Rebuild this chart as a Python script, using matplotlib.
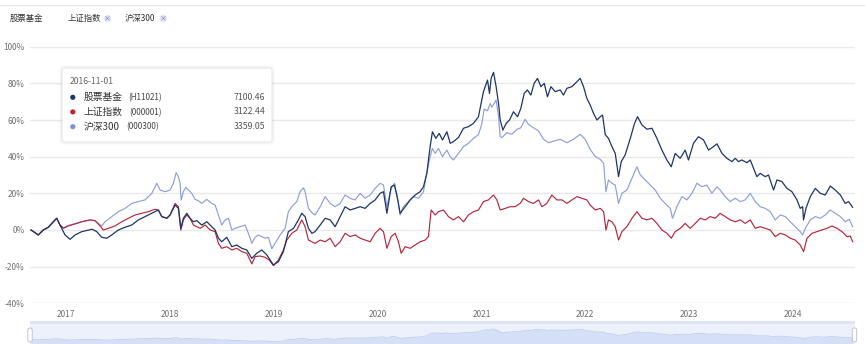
import numpy as np
import matplotlib
matplotlib.use("Agg")
import matplotlib.pyplot as plt
from matplotlib.patches import FancyBboxPatch, Circle, Rectangle
from matplotlib.transforms import IdentityTransform

plt.rcParams['font.family'] = ['Noto Sans CJK SC', 'DejaVu Sans']

# cumulative return (%), x in decimal years
fund = [
    (2016.666, 0.0), (2016.705, -1.5), (2016.736, -2.7), (2016.784, 0.0), (2016.833, 1.5),
    (2016.881, 4.5), (2016.913, 6.4), (2016.945, 2.7), (2016.993, -2.7), (2017.041, -5.1),
    (2017.090, -2.7), (2017.154, -0.9), (2017.254, 0.4), (2017.298, -0.9), (2017.346, -4.0),
    (2017.395, -4.5), (2017.443, -2.7), (2017.506, 0.0), (2017.571, 1.5), (2017.635, 2.7),
    (2017.699, 5.5), (2017.763, 7.3), (2017.828, 9.1), (2017.891, 10.9), (2017.924, 7.3),
    (2017.972, 6.4), (2018.004, 8.2), (2018.052, 13.6), (2018.084, 11.8), (2018.107, 0.9),
    (2018.132, 6.4), (2018.165, 9.1), (2018.196, 6.4), (2018.228, 4.5), (2018.261, 5.1),
    (2018.309, 2.7), (2018.357, 4.5), (2018.405, 1.8), (2018.437, 0.0), (2018.469, -4.5),
    (2018.501, -6.4), (2018.549, -4.0), (2018.598, -9.1), (2018.645, -8.2), (2018.694, -10.0),
    (2018.742, -10.9), (2018.790, -15.5), (2018.838, -12.7), (2018.886, -10.9), (2018.935, -13.6),
    (2018.998, -19.1), (2019.046, -17.3), (2019.094, -11.8), (2019.142, -0.9), (2019.191, 0.9),
    (2019.239, 5.5), (2019.271, 9.1), (2019.303, 7.3), (2019.335, 0.9), (2019.368, -1.8),
    (2019.399, -0.9), (2019.448, 2.7), (2019.496, 6.4), (2019.544, 5.5), (2019.592, 1.8),
    (2019.640, 7.3), (2019.688, 12.7), (2019.736, 10.9), (2019.784, 11.8), (2019.833, 12.7),
    (2019.881, 11.8), (2019.929, 14.5), (2019.977, 16.4), (2020.025, 20.0), (2020.057, 20.9),
    (2020.090, 9.1), (2020.131, 23.6), (2020.163, 24.5), (2020.195, 16.4), (2020.217, 9.1),
    (2020.266, 12.7), (2020.314, 16.4), (2020.362, 19.1), (2020.410, 20.9), (2020.442, 23.6),
    (2020.474, 30.9), (2020.506, 45.5), (2020.528, 53.6), (2020.561, 50.0), (2020.593, 52.7),
    (2020.625, 49.1), (2020.667, 53.6), (2020.699, 47.3), (2020.730, 48.2), (2020.779, 50.5),
    (2020.827, 55.5), (2020.875, 56.4), (2020.923, 58.2), (2020.971, 61.8), (2021.019, 75.5),
    (2021.058, 81.8), (2021.077, 74.5), (2021.093, 82.7), (2021.116, 86.0), (2021.141, 78.2),
    (2021.164, 69.1), (2021.180, 60.0), (2021.206, 54.5), (2021.238, 58.2), (2021.270, 60.0),
    (2021.308, 64.5), (2021.347, 61.8), (2021.379, 66.4), (2021.411, 74.5), (2021.442, 76.4),
    (2021.475, 73.6), (2021.507, 80.0), (2021.539, 82.7), (2021.572, 78.2), (2021.604, 80.0),
    (2021.635, 72.7), (2021.668, 78.2), (2021.709, 75.5), (2021.757, 76.4), (2021.789, 73.6),
    (2021.822, 77.3), (2021.870, 78.2), (2021.918, 80.9), (2021.950, 82.7), (2021.982, 78.2),
    (2022.014, 71.8), (2022.046, 68.2), (2022.078, 63.6), (2022.111, 60.0), (2022.143, 61.8),
    (2022.165, 62.7), (2022.191, 52.0), (2022.222, 50.0), (2022.255, 45.5), (2022.287, 41.8),
    (2022.319, 29.1), (2022.345, 37.3), (2022.383, 41.0), (2022.432, 50.0), (2022.473, 58.2),
    (2022.502, 61.8), (2022.544, 57.3), (2022.592, 55.0), (2022.640, 55.5), (2022.688, 50.0),
    (2022.736, 43.6), (2022.784, 38.2), (2022.826, 34.5), (2022.864, 41.8), (2022.912, 39.1),
    (2022.960, 43.6), (2022.992, 38.2), (2023.040, 47.3), (2023.088, 50.9), (2023.137, 49.1),
    (2023.185, 43.6), (2023.233, 45.5), (2023.266, 47.0), (2023.314, 41.8), (2023.362, 39.1),
    (2023.410, 37.3), (2023.442, 39.1), (2023.473, 37.3), (2023.506, 38.2), (2023.554, 36.7),
    (2023.586, 38.2), (2023.618, 33.6), (2023.650, 29.1), (2023.682, 30.9), (2023.730, 29.1),
    (2023.762, 30.0), (2023.810, 21.8), (2023.843, 27.3), (2023.891, 26.4), (2023.939, 22.7),
    (2023.987, 20.9), (2024.036, 16.4), (2024.067, 11.8), (2024.090, 12.7), (2024.099, 5.5),
    (2024.122, 11.8), (2024.164, 18.2), (2024.212, 22.7), (2024.260, 20.0), (2024.308, 19.1),
    (2024.356, 24.0), (2024.404, 21.8), (2024.453, 19.1), (2024.500, 14.5), (2024.532, 15.5),
    (2024.571, 12.4),
]

sh_index = [
    (2016.666, 0.0), (2016.705, -1.5), (2016.736, -2.7), (2016.784, 0.0), (2016.833, 1.5),
    (2016.881, 4.5), (2016.913, 6.4), (2016.945, 2.7), (2016.977, 0.9), (2017.025, 2.2),
    (2017.090, 3.3), (2017.154, 4.5), (2017.234, 5.5), (2017.282, 5.1), (2017.330, 2.2),
    (2017.362, 0.0), (2017.410, 0.9), (2017.474, 2.2), (2017.539, 4.5), (2017.603, 6.4),
    (2017.667, 8.2), (2017.731, 9.1), (2017.795, 10.0), (2017.859, 11.3), (2017.891, 10.9),
    (2017.924, 7.3), (2017.972, 6.4), (2018.004, 8.2), (2018.052, 14.5), (2018.084, 12.7),
    (2018.107, 0.0), (2018.132, 5.5), (2018.165, 8.2), (2018.196, 6.4), (2018.228, 2.7),
    (2018.261, 1.8), (2018.293, 0.9), (2018.341, 2.7), (2018.389, 0.0), (2018.437, -0.9),
    (2018.469, -7.3), (2018.501, -10.0), (2018.549, -9.1), (2018.598, -10.9), (2018.645, -10.0),
    (2018.694, -11.8), (2018.742, -12.7), (2018.790, -18.5), (2018.822, -14.5), (2018.870, -14.2),
    (2018.918, -14.9), (2018.957, -16.4), (2018.998, -19.4), (2019.046, -16.4), (2019.094, -10.9),
    (2019.127, -5.5), (2019.175, -1.8), (2019.223, 0.0), (2019.271, 5.5), (2019.303, 1.8),
    (2019.335, -5.5), (2019.368, -6.4), (2019.399, -7.3), (2019.448, -5.5), (2019.496, -6.4),
    (2019.544, -4.5), (2019.592, -9.1), (2019.640, -6.4), (2019.688, -1.8), (2019.736, -3.6),
    (2019.784, -2.7), (2019.833, -4.5), (2019.881, -5.5), (2019.929, -6.4), (2019.977, -1.8),
    (2020.025, 0.9), (2020.057, -0.9), (2020.090, -10.0), (2020.131, -3.6), (2020.169, -1.8),
    (2020.201, -6.4), (2020.227, -12.7), (2020.266, -9.1), (2020.314, -10.0), (2020.362, -8.2),
    (2020.410, -6.4), (2020.458, -5.5), (2020.490, -3.6), (2020.516, 10.9), (2020.554, 8.2),
    (2020.586, 10.0), (2020.634, 10.9), (2020.682, 7.3), (2020.730, 5.5), (2020.779, 7.3),
    (2020.827, 4.5), (2020.875, 8.2), (2020.923, 10.0), (2020.971, 10.9), (2021.019, 15.5),
    (2021.067, 16.4), (2021.116, 19.1), (2021.148, 16.4), (2021.180, 10.9), (2021.228, 11.8),
    (2021.276, 12.7), (2021.324, 12.7), (2021.372, 14.5), (2021.404, 17.3), (2021.452, 15.5),
    (2021.500, 14.5), (2021.549, 16.4), (2021.581, 12.7), (2021.629, 14.5), (2021.677, 19.1),
    (2021.726, 16.4), (2021.774, 16.4), (2021.822, 14.5), (2021.870, 16.4), (2021.918, 18.2),
    (2021.966, 17.3), (2022.014, 16.4), (2022.046, 13.6), (2022.094, 10.9), (2022.143, 11.8),
    (2022.175, 10.0), (2022.198, 0.0), (2022.222, 5.5), (2022.255, 4.5), (2022.287, 1.8),
    (2022.319, -5.5), (2022.351, -0.9), (2022.399, 1.8), (2022.448, 6.4), (2022.496, 10.0),
    (2022.544, 6.4), (2022.592, 5.5), (2022.640, 6.4), (2022.688, 3.6), (2022.736, 0.0),
    (2022.784, -1.8), (2022.826, -4.5), (2022.864, -0.9), (2022.912, 0.9), (2022.960, 3.6),
    (2023.008, 0.9), (2023.057, 3.6), (2023.105, 6.4), (2023.153, 5.5), (2023.201, 7.3),
    (2023.249, 6.4), (2023.297, 9.1), (2023.345, 7.3), (2023.393, 5.5), (2023.442, 4.5),
    (2023.490, 5.5), (2023.538, 3.6), (2023.586, 5.5), (2023.634, 0.9), (2023.682, 1.8),
    (2023.730, 0.9), (2023.778, 0.0), (2023.827, -3.6), (2023.875, -1.8), (2023.923, -2.7),
    (2023.971, -4.5), (2024.019, -5.5), (2024.067, -8.2), (2024.099, -11.8), (2024.132, -4.5),
    (2024.180, -1.8), (2024.228, -0.9), (2024.276, 0.0), (2024.324, 0.9), (2024.372, 2.2),
    (2024.421, 0.9), (2024.469, -0.9), (2024.517, -3.6), (2024.549, -3.3), (2024.571, -6.4),
]

hs300 = [
    (2016.666, 0.0), (2016.705, -1.5), (2016.736, -2.7), (2016.784, 0.0), (2016.833, 1.5),
    (2016.881, 4.5), (2016.913, 6.4), (2016.945, 2.7), (2016.977, 1.2), (2017.025, 2.5),
    (2017.090, 3.5), (2017.154, 4.5), (2017.234, 5.5), (2017.282, 5.0), (2017.346, 2.2),
    (2017.378, 4.5), (2017.443, 7.3), (2017.506, 10.0), (2017.571, 11.8), (2017.635, 14.5),
    (2017.699, 15.5), (2017.763, 16.4), (2017.828, 20.0), (2017.876, 25.5), (2017.908, 21.8),
    (2017.956, 20.9), (2018.004, 21.8), (2018.036, 25.5), (2018.062, 31.3), (2018.084, 29.1),
    (2018.100, 25.5), (2018.110, 16.4), (2018.132, 20.9), (2018.155, 23.3), (2018.180, 21.8),
    (2018.213, 20.0), (2018.244, 16.7), (2018.276, 16.0), (2018.309, 14.5), (2018.357, 16.7),
    (2018.405, 14.5), (2018.437, 13.6), (2018.469, 8.2), (2018.501, 2.7), (2018.533, 5.5),
    (2018.565, 6.4), (2018.598, 0.0), (2018.629, 0.9), (2018.678, 1.8), (2018.726, 2.7),
    (2018.757, -1.8), (2018.790, -7.3), (2018.822, -4.0), (2018.854, -2.7), (2018.886, -3.6),
    (2018.918, -4.5), (2018.950, -4.0), (2018.983, -10.2), (2019.014, -7.3), (2019.063, -2.7),
    (2019.111, 0.9), (2019.142, 10.0), (2019.175, 12.7), (2019.223, 15.5), (2019.255, 20.9),
    (2019.287, 23.0), (2019.303, 20.9), (2019.335, 11.8), (2019.368, 9.5), (2019.399, 8.2),
    (2019.448, 12.7), (2019.496, 18.2), (2019.544, 14.5), (2019.592, 12.7), (2019.640, 14.5),
    (2019.688, 19.1), (2019.736, 17.3), (2019.784, 16.4), (2019.833, 20.0), (2019.881, 17.3),
    (2019.929, 19.1), (2019.977, 22.7), (2020.025, 25.5), (2020.057, 24.5), (2020.090, 12.7),
    (2020.131, 22.7), (2020.163, 25.5), (2020.195, 16.4), (2020.217, 8.2), (2020.249, 12.7),
    (2020.297, 15.5), (2020.346, 18.2), (2020.394, 17.3), (2020.442, 20.9), (2020.474, 30.9),
    (2020.506, 40.0), (2020.528, 44.5), (2020.554, 41.8), (2020.586, 44.5), (2020.625, 40.0),
    (2020.667, 43.6), (2020.699, 40.0), (2020.730, 38.2), (2020.779, 41.8), (2020.827, 45.5),
    (2020.875, 47.3), (2020.923, 50.0), (2020.971, 52.0), (2021.004, 58.0), (2021.026, 66.0),
    (2021.058, 65.0), (2021.084, 69.0), (2021.100, 67.0), (2021.141, 70.9), (2021.164, 62.0),
    (2021.180, 51.0), (2021.196, 50.4), (2021.244, 53.1), (2021.292, 52.2), (2021.341, 54.9),
    (2021.379, 55.8), (2021.420, 60.4), (2021.452, 57.6), (2021.500, 55.8), (2021.549, 54.0),
    (2021.597, 49.5), (2021.645, 47.6), (2021.693, 48.5), (2021.757, 49.5), (2021.822, 47.6),
    (2021.886, 49.5), (2021.950, 52.2), (2021.998, 49.5), (2022.046, 44.0), (2022.094, 40.2),
    (2022.143, 38.5), (2022.175, 36.4), (2022.198, 20.9), (2022.222, 27.3), (2022.255, 25.5),
    (2022.287, 24.5), (2022.319, 14.5), (2022.351, 20.0), (2022.399, 21.8), (2022.448, 28.2),
    (2022.496, 34.5), (2022.528, 30.0), (2022.576, 27.3), (2022.624, 24.5), (2022.672, 21.8),
    (2022.720, 17.3), (2022.768, 14.5), (2022.816, 11.8), (2022.838, 6.4), (2022.880, 12.7),
    (2022.929, 18.2), (2022.977, 16.4), (2023.025, 20.0), (2023.073, 25.5), (2023.121, 23.6),
    (2023.169, 24.5), (2023.217, 20.0), (2023.266, 23.6), (2023.297, 21.8), (2023.345, 18.2),
    (2023.393, 15.5), (2023.442, 17.3), (2023.490, 15.5), (2023.538, 16.4), (2023.586, 20.0),
    (2023.634, 15.5), (2023.682, 12.7), (2023.730, 11.8), (2023.778, 10.0), (2023.827, 5.5),
    (2023.875, 8.2), (2023.923, 7.3), (2023.971, 4.5), (2024.019, 1.8), (2024.067, -0.9),
    (2024.090, -2.7), (2024.116, 0.9), (2024.164, 5.5), (2024.212, 7.3), (2024.260, 6.4),
    (2024.308, 8.2), (2024.356, 10.9), (2024.404, 9.1), (2024.453, 7.3), (2024.500, 4.5),
    (2024.539, 5.8), (2024.571, 1.8),
]

year_ticks = [2017, 2018, 2019, 2020, 2021, 2022, 2023, 2024]
pct_ticks = [-40, -20, 0, 20, 40, 60, 80, 100]
pct_labels = ['-40%', '-20%', '0%', '20%', '40%', '60%', '80%', '100%']

series_names = ['股票基金', '上证指数', '沪深300']
series_codes = ['(H11021)', '(000001)', '(000300)']
tip_values = ['7100.46', '3122.44', '3359.05']
tip_date = '2016-11-01'

c_fund = '#1e3566'
c_sh = '#b3283d'
c_hs = '#8d9fd8'
dot_colors = ['#1b3766', '#c0252c', '#7e90d4']

W, H = 865, 344
fig = plt.figure(figsize=(W / 100, H / 100), dpi=100)
fig.patch.set_facecolor('white')


def fx(x):
    return x / W


def fy(y):
    return 1 - y / H


# main plot area
ax = fig.add_axes([fx(30), fy(303.3), fx(825), (303.3 - 46.7) / H])
ax.set_xlim(2016.656, 2024.594)
ax.set_ylim(-40, 100)
for s in ax.spines.values():
    s.set_visible(False)
ax.set_yticks(pct_ticks)
ax.set_yticklabels(pct_labels)
ax.set_xticks(year_ticks)
ax.set_xticklabels([str(y) for y in year_ticks])
ax.tick_params(length=0, labelsize=6, labelcolor='#6e6e6e')
ax.tick_params(axis='y', pad=4)
ax.tick_params(axis='x', pad=5)
ax.grid(axis='y', color='#e9e9e9', linewidth=1.0)
ax.set_axisbelow(True)

for data, col, lw in [(hs300, c_hs, 0.85), (sh_index, c_sh, 0.85), (fund, c_fund, 0.9)]:
    t, v = zip(*data)
    ax.plot(t, v, color=col, linewidth=lw, clip_on=False)

# top separator line
fig.add_artist(plt.Line2D([0, 1], [fy(5), fy(5)], color='#e8e8e8', linewidth=0.8))

# legend row
fig.text(fx(10), fy(18.5), series_names[0], fontsize=6, color='#333333', va='center')
for name, x0, cx in [(series_names[1], 67.5, 107.7), (series_names[2], 125, 163.3)]:
    fig.text(fx(x0), fy(18.5), name, fontsize=6, color='#333333', va='center')
    fig.add_artist(Circle((cx, H - 18.5), 3.6, transform=IdentityTransform(),
                          facecolor='#e2e4f6', edgecolor='none'))
    fig.text(fx(cx), fy(18.7), '×', fontsize=5, color='#6a6fb8', ha='center', va='center')

# slider / data zoom
sl = fig.add_axes([fx(30), 0, fx(825), (344 - 321) / H])
sl.set_xlim(ax.get_xlim())
sl.set_ylim(-37, 151)
sl.axis('off')
sl.add_patch(Rectangle((0, 0), 1, 1, transform=sl.transAxes, facecolor='#edf1fb',
                       edgecolor='none', zorder=0))
ft, fv = zip(*fund)
sl.fill_between(ft, fv, -37, color='#d5dff6', linewidth=0, zorder=1)
sl.plot(ft, fv, color='#bfcdef', linewidth=0.6, zorder=2)
sl.add_patch(Rectangle((0, 0.86), 1, 0.14, transform=sl.transAxes, facecolor='#dfe5f3',
                       edgecolor='none', zorder=3))
for hx in (30, 854.5):
    fig.add_artist(FancyBboxPatch((hx - 2.2, H - 342), 4.4, 14,
                                  boxstyle='round,pad=0,rounding_size=2',
                                  transform=IdentityTransform(), facecolor='white',
                                  edgecolor='#b5bccb', linewidth=0.6))

# tooltip box with a soft shadow
bx, by, bw, bh = 62.3, 68.3, 209.4, 73.4
for i, a in enumerate([0.02, 0.03, 0.04]):
    g = 3 - i
    fig.add_artist(FancyBboxPatch((bx - g, H - by - bh - g), bw + 2 * g, bh + 2 * g,
                                  boxstyle='round,pad=0,rounding_size=5',
                                  transform=IdentityTransform(), facecolor='#000000',
                                  alpha=a, edgecolor='none'))
fig.add_artist(FancyBboxPatch((bx, H - by - bh), bw, bh,
                              boxstyle='round,pad=0,rounding_size=3',
                              transform=IdentityTransform(), facecolor='white',
                              edgecolor='#f0f0f0', linewidth=0.5))
fig.text(fx(69.5), fy(81.7), tip_date, fontsize=6.2, color='#666666', va='center')
row_y = [97.3, 111.9, 126.7]
code_x = [128.5, 129.0, 126.7]
for i in range(3):
    fig.add_artist(Circle((72.8, H - row_y[i]), 2.6, transform=IdentityTransform(),
                          facecolor=dot_colors[i], edgecolor='none'))
    fig.text(fx(84), fy(row_y[i]), series_names[i], fontsize=7, color='#333333', va='center')
    fig.text(fx(code_x[i]), fy(row_y[i] + 0.3), series_codes[i], fontsize=5.8,
             color='#444444', va='center')
    fig.text(fx(265.5), fy(row_y[i]), tip_values[i], fontsize=6.3, color='#555555',
             va='center', ha='right')

fig.savefig('out.png', dpi=100, facecolor='white')
